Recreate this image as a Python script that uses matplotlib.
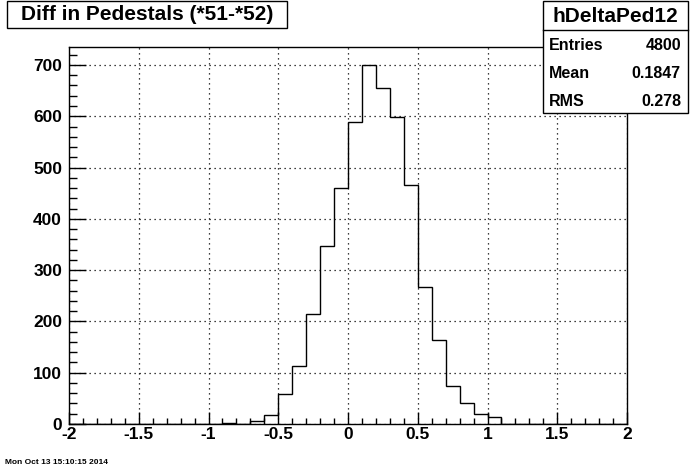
import numpy as np
import matplotlib.pyplot as plt
from matplotlib.patches import Rectangle
from matplotlib.ticker import MultipleLocator

plt.rcParams['font.family'] = ['Liberation Sans', 'DejaVu Sans']
plt.rcParams['font.weight'] = 'bold'

# histogram hDeltaPed12: 40 bins from -2 to 2
edges = np.linspace(-2, 2, 41)
bin_low = [-0.9, -0.7, -0.6, -0.5, -0.4, -0.3, -0.2, -0.1, 0.0, 0.1,
           0.2, 0.3, 0.4, 0.5, 0.6, 0.7, 0.8, 0.9, 1.0]
bin_counts = [2, 5, 17, 58, 113, 214, 348, 461, 588, 700,
              656, 599, 466, 268, 164, 74, 40, 20, 13]

title = "Diff in Pedestals (*51-*52)"
hist_name = "hDeltaPed12"
stats = [("Entries", "4800"), ("Mean", "0.1847"), ("RMS", "0.278")]
date_str = "Mon Oct 13 15:10:15 2014"

counts = np.zeros(40)
for lo, c in zip(bin_low, bin_counts):
    counts[int(round((lo + 2) / 0.1))] = c

W, H = 696, 472
fig = plt.figure(figsize=(W / 100, H / 100), dpi=100)

def fx(x):
    return x / W

def fy(y):
    return 1 - y / H

ax = fig.add_axes([fx(69), fy(424), fx(627) - fx(69), fy(47) - fy(424)])
ax.stairs(counts, edges, color='black', lw=1.0)
ax.set_xlim(-2, 2)
ax.set_ylim(0, 735)

ax.xaxis.set_major_locator(MultipleLocator(0.5))
ax.xaxis.set_minor_locator(MultipleLocator(0.1))
ax.yaxis.set_major_locator(MultipleLocator(100))
ax.yaxis.set_minor_locator(MultipleLocator(20))
ax.xaxis.set_major_formatter(plt.FuncFormatter(lambda v, p: ('%g' % v)))
ax.tick_params(axis='both', which='both', direction='in', top=False, right=False,
               labelsize=12.5, width=1)
ax.tick_params(axis='y', which='major', length=12, pad=5)
ax.tick_params(axis='y', which='minor', length=6)
ax.tick_params(axis='x', which='major', length=9, pad=2)
ax.tick_params(axis='x', which='minor', length=4.5)
for lab in ax.get_xticklabels() + ax.get_yticklabels():
    lab.set_fontweight('bold')
ax.grid(True, which='major', color='black', linestyle=(0, (1, 3)), lw=0.9)
for s in ax.spines.values():
    s.set_linewidth(1.0)

# title box
fig.add_artist(Rectangle((fx(7), fy(28)), fx(287) - fx(7), fy(1) - fy(28),
                         transform=fig.transFigure, fc='white', ec='black', lw=1))
fig.text(fx(147), fy(15), title, ha='center', va='center', fontsize=15,
         fontweight='bold')

# stats box
fig.add_artist(Rectangle((fx(543), fy(113)), fx(688) - fx(543), fy(1) - fy(113),
                         transform=fig.transFigure, fc='white', ec='black', lw=1,
                         zorder=5))
fig.add_artist(plt.Line2D([fx(543), fx(688)], [fy(30), fy(30)],
                          transform=fig.transFigure, color='black', lw=1, zorder=6))
fig.text(fx(615), fy(16), hist_name, ha='center', va='center', fontsize=15,
         fontweight='bold', zorder=7)
for i, (k, v) in enumerate(stats):
    y = 46 + i * 28
    fig.text(fx(549), fy(y), k, ha='left', va='center', fontsize=11.5,
             fontweight='bold', zorder=7)
    fig.text(fx(681), fy(y), v, ha='right', va='center', fontsize=11.5,
             fontweight='bold', zorder=7)

fig.text(fx(5), fy(463), date_str, ha='left', va='center', fontsize=6,
         fontweight='bold')

fig.savefig('out.png', dpi=100)
